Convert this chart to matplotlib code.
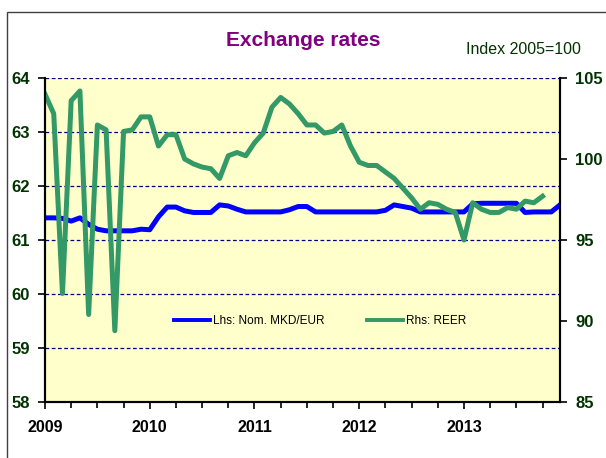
import matplotlib
matplotlib.use("Agg")
import matplotlib.pyplot as plt
import matplotlib.patches as patches
import numpy as np

plt.rcParams['font.family'] = ['Liberation Sans', 'DejaVu Sans']

# monthly data, Jan 2009 = 0
years = ['2009', '2010', '2011', '2012', '2013']
mkd_eur = [61.41, 61.41, 61.40, 61.35, 61.41, 61.29, 61.20, 61.17, 61.17, 61.17,
           61.17, 61.20, 61.19, 61.43, 61.61, 61.61, 61.54, 61.51, 61.51, 61.51,
           61.65, 61.63, 61.57, 61.52, 61.52, 61.52, 61.52, 61.52, 61.56, 61.62,
           61.62, 61.52, 61.52, 61.52, 61.52, 61.52, 61.52, 61.52, 61.52, 61.55,
           61.65, 61.62, 61.59, 61.52, 61.52, 61.52, 61.52, 61.52, 61.52, 61.67,
           61.68, 61.68, 61.68, 61.68, 61.68, 61.51, 61.52, 61.52, 61.52, 61.65]
reer = [104.0, 102.8, 91.7, 103.6, 104.2, 90.4, 102.1, 101.8, 89.4, 101.7,
        101.8, 102.6, 102.6, 100.8, 101.5, 101.5, 100.0, 99.7, 99.5, 99.4,
        98.8, 100.2, 100.4, 100.2, 101.0, 101.6, 103.2, 103.8, 103.4, 102.8,
        102.1, 102.1, 101.6, 101.7, 102.1, 100.8, 99.8, 99.6, 99.6, 99.2,
        98.8, 98.2, 97.6, 96.9, 97.3, 97.2, 96.9, 96.7, 95.0, 97.3,
        96.9, 96.7, 96.7, 97.0, 96.9, 97.4, 97.3, 97.7]

blue = '#0000FF'
green = '#339966'
dark_green = '#003300'

fig = plt.figure(figsize=(6.06, 4.58), dpi=100)
ax = fig.add_axes([45/606, 1-402/458, 515/606, 324/458])
ax.set_facecolor('#FFFFCC')
ax2 = ax.twinx()

l1, = ax.plot(np.arange(len(mkd_eur)), mkd_eur, color=blue, lw=3.6,
              solid_joinstyle='round', label='Lhs: Nom. MKD/EUR')
l2, = ax2.plot(np.arange(len(reer)), reer, color=green, lw=3.6,
               solid_joinstyle='round', label='Rhs: REER')

ax.set_xlim(0, 59)
ax.set_ylim(58, 64)
ax2.set_ylim(85, 105)

ax.set_yticks(range(58, 65))
ax2.set_yticks(range(85, 106, 5))
ax.set_xticks([0, 12, 24, 36, 48])
ax.set_xticks(range(0, 60, 3), minor=True)
ax.set_xticklabels(years)

ax.yaxis.grid(True, color='#000080', ls=(0, (3, 2)), lw=0.9)
ax.set_axisbelow(True)

for a in (ax, ax2):
    a.spines['top'].set_visible(False)
    for s in ('left', 'right', 'bottom'):
        a.spines[s].set_linewidth(1.5)
        a.spines[s].set_color('black')

ax.tick_params(axis='y', direction='out', length=5, width=1.2, pad=6,
               labelsize=12, labelcolor=dark_green)
ax2.tick_params(axis='y', direction='out', length=5, width=1.2, pad=6,
                labelsize=12, labelcolor=dark_green)
ax.tick_params(axis='x', which='major', direction='out', length=5, width=1.2,
               pad=8, labelsize=11.5, labelcolor='black')
ax.tick_params(axis='x', which='minor', direction='out', length=4, width=1.2)
for lab in ax.get_yticklabels() + ax2.get_yticklabels() + ax.get_xticklabels():
    lab.set_fontweight('bold')

ax2.legend(handles=[l1, l2], loc='center', bbox_to_anchor=(0.535, 0.25),
           ncol=2, frameon=False, fontsize=8.5, columnspacing=3.6,
           handlelength=3.0, handletextpad=0.3)
for h in ax2.get_legend().get_lines():
    h.set_linewidth(2.8)

fig.text(303/606, 1-40/458, 'Exchange rates', ha='center', va='center',
         fontsize=15, fontweight='bold', color='#800080')
fig.text(581/606, 1-50/458, 'Index 2005=100', ha='right', va='center',
         fontsize=11.5, color=dark_green)

# outer frame (cut off at right and bottom)
fig.patches.append(patches.Rectangle((7/606, -0.1), 1.2, 1.1-12/458,
                                     transform=fig.transFigure, fill=False,
                                     edgecolor='#404040', lw=1.0))

fig.savefig('out.png', dpi=100)
